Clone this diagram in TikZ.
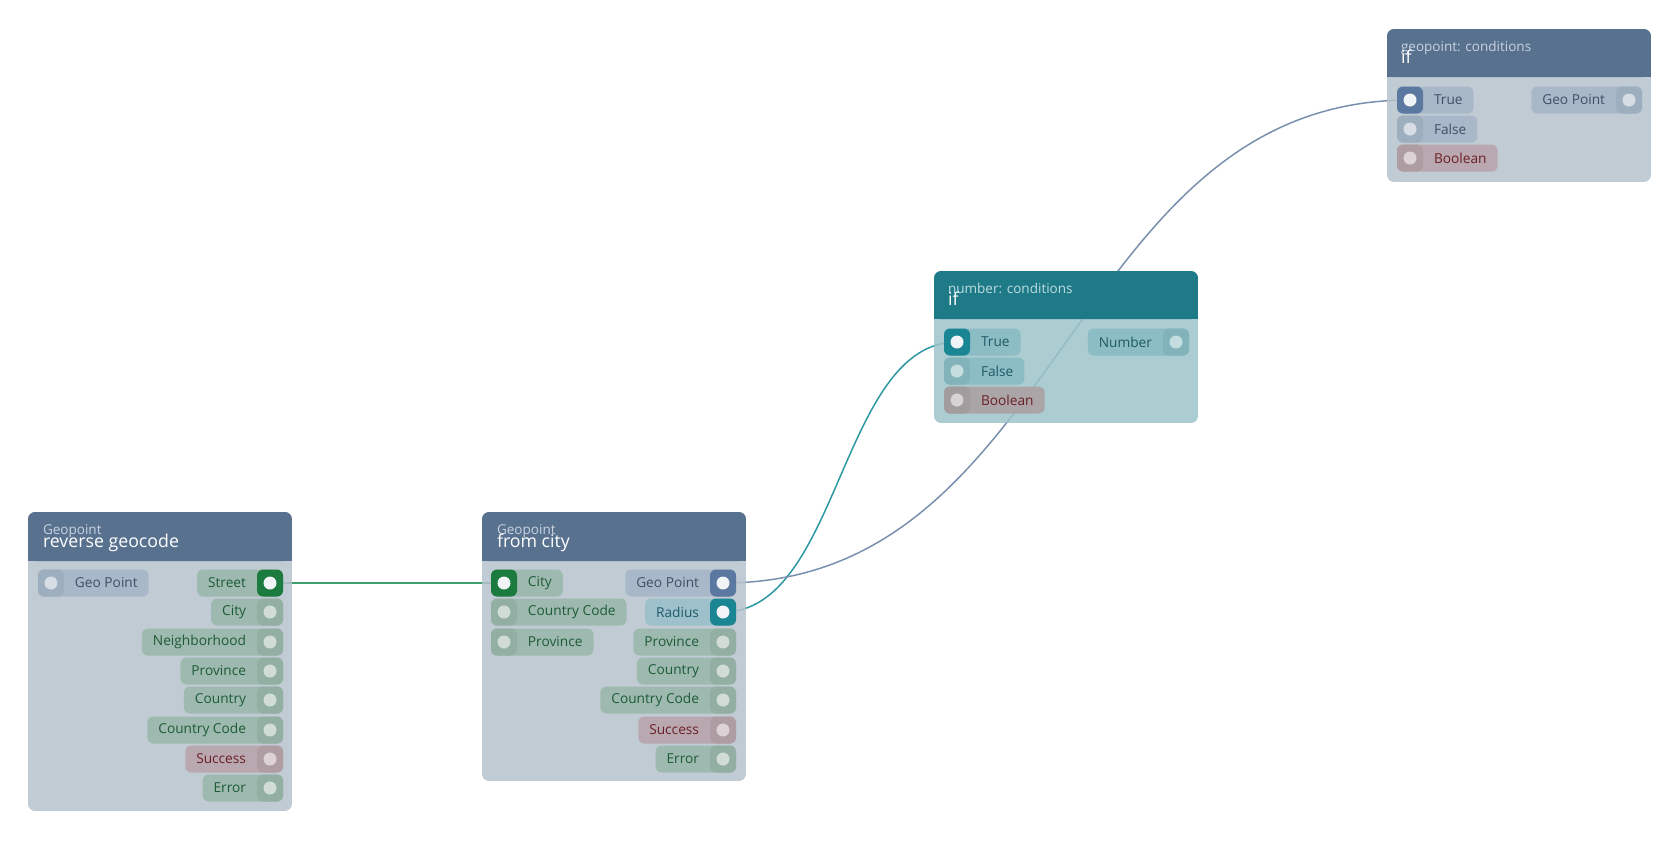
\documentclass[tikz,border=0pt]{standalone}
\usepackage{fontspec}
\setmainfont{Open Sans}
\usepackage{xcolor}
\usepackage{tikz}
\usetikzlibrary{backgrounds}
\definecolor{hdrslate}{HTML}{58718F}
\definecolor{hdrteal}{HTML}{1E7A87}
\definecolor{bodygray}{HTML}{B6C2CC}
\definecolor{bodyteal}{HTML}{9CC3C9}
\definecolor{subslate}{HTML}{C9D3DF}
\definecolor{subteal}{HTML}{BFDCE0}
\definecolor{pillgrn}{HTML}{9EBAB0}
\definecolor{txtgrn}{HTML}{1E5B36}
\definecolor{portgrn}{HTML}{93AFA4}
\definecolor{dotgrn}{HTML}{D2DCD7}
\definecolor{pillslate}{HTML}{A9B8C8}
\definecolor{txtslate}{HTML}{3F5068}
\definecolor{portslate}{HTML}{9DAEBF}
\definecolor{dotslate}{HTML}{D6DDE4}
\definecolor{pillred}{HTML}{B9A8AF}
\definecolor{txtred}{HTML}{6C1F28}
\definecolor{portred}{HTML}{AF9DA4}
\definecolor{dotred}{HTML}{DDD3D7}
\definecolor{pillrad}{HTML}{9EC0CB}
\definecolor{txtrad}{HTML}{1F5C6C}
\definecolor{pillteal}{HTML}{8DBDC4}
\definecolor{txtteal}{HTML}{1E5A63}
\definecolor{portteal}{HTML}{83B3BA}
\definecolor{dotteal}{HTML}{C6DDE0}
\definecolor{pillbool}{HTML}{ABA5A8}
\definecolor{portbool}{HTML}{A29C9F}
\definecolor{dotbool}{HTML}{D6D3D5}
\definecolor{actgrn}{HTML}{1B7A3E}
\definecolor{actslate}{HTML}{5A78A0}
\definecolor{actteal}{HTML}{1A8593}
\definecolor{actdot}{HTML}{F0F4F6}
\definecolor{wiregrn}{HTML}{3F9E6E}
\definecolor{wireteal}{HTML}{2C98A2}
\definecolor{wireslate}{HTML}{7890AD}
\newcommand{\lblfont}{\fontsize{7.8}{9}\selectfont}
\newcommand{\ttlfont}{\fontsize{10.1}{12}\selectfont}
\newcommand{\subfont}{\fontsize{7.7}{9}\selectfont}

\begin{document}
\begin{tikzpicture}[x=0.02cm,y=-0.02cm,
  every node/.style={inner sep=0,outer sep=0},
  body/.style={fill=#1,fill opacity=0.85,rounded corners=0.14cm,minimum width=5.28cm,anchor=north west},
  subttl/.style={anchor=base west,text=#1,font=\subfont},
  ttl/.style={anchor=base west,text=white,font=\ttlfont},
  ipill/.style 2 args={fill=#1,text=#2,font=\lblfont,rounded corners=0.12cm,minimum height=0.54cm,inner xsep=0.22cm,anchor=west,execute at begin node={\hspace*{0.52cm}}},
  opill/.style 2 args={fill=#1,text=#2,font=\lblfont,rounded corners=0.12cm,minimum height=0.54cm,inner xsep=0.22cm,anchor=east,execute at end node={\hspace*{0.52cm}}},
  port/.style 2 args={fill=#1,rounded corners=0.12cm,minimum width=0.52cm,minimum height=0.54cm,path picture={\fill[#2] (path picture bounding box.center) circle (0.13cm);}},
  wire/.style={draw=#1,line width=0.85pt}]

\useasboundingbox (0,0) rectangle (1680,840);

% reverse geocode
\draw node[body=bodygray,minimum height=5.98cm] at (28,512) (rg) {};
\fill[hdrslate,rounded corners=0.14cm] (rg.north west) rectangle ([yshift=-0.98cm]rg.north east);
\fill[hdrslate] ([yshift=-0.5cm]rg.north west) rectangle ([yshift=-0.98cm]rg.north east);
\draw node[subttl=subslate] at (43,534) (rg-sub) {Geopoint};
\draw node[ttl] at (43,547) (rg-ttl) {reverse geocode};

\draw node[ipill={pillslate}{txtslate}] at (38,583) (rg-geo) {Geo Point};
\draw node[port={portslate}{dotslate},anchor=west] at (rg-geo.west) (rg-geo-p) {};
\draw node[opill={pillgrn}{txtgrn}] at (283,583) (rg-street) {Street};
\draw node[port={actgrn}{actdot},anchor=east] at (rg-street.east) (rg-street-p) {};
\draw node[opill={pillgrn}{txtgrn}] at (283,612) (rg-city) {City};
\draw node[port={portgrn}{dotgrn},anchor=east] at (rg-city.east) (rg-city-p) {};
\draw node[opill={pillgrn}{txtgrn}] at (283,642) (rg-hood) {Neighborhood};
\draw node[port={portgrn}{dotgrn},anchor=east] at (rg-hood.east) (rg-hood-p) {};
\draw node[opill={pillgrn}{txtgrn}] at (283,671) (rg-prov) {Province};
\draw node[port={portgrn}{dotgrn},anchor=east] at (rg-prov.east) (rg-prov-p) {};
\draw node[opill={pillgrn}{txtgrn}] at (283,700) (rg-country) {Country};
\draw node[port={portgrn}{dotgrn},anchor=east] at (rg-country.east) (rg-country-p) {};
\draw node[opill={pillgrn}{txtgrn}] at (283,730) (rg-code) {Country Code};
\draw node[port={portgrn}{dotgrn},anchor=east] at (rg-code.east) (rg-code-p) {};
\draw node[opill={pillred}{txtred}] at (283,759) (rg-ok) {Success};
\draw node[port={portred}{dotred},anchor=east] at (rg-ok.east) (rg-ok-p) {};
\draw node[opill={pillgrn}{txtgrn}] at (283,788) (rg-err) {Error};
\draw node[port={portgrn}{dotgrn},anchor=east] at (rg-err.east) (rg-err-p) {};

% from city
\draw node[body=bodygray,minimum height=5.38cm] at (482,512) (fc) {};
\fill[hdrslate,rounded corners=0.14cm] (fc.north west) rectangle ([yshift=-0.98cm]fc.north east);
\fill[hdrslate] ([yshift=-0.5cm]fc.north west) rectangle ([yshift=-0.98cm]fc.north east);
\draw node[subttl=subslate] at (497,534) (fc-sub) {Geopoint};
\draw node[ttl] at (497,547) (fc-ttl) {from city};

\draw node[ipill={pillgrn}{txtgrn}] at (491,583) (fc-city) {City};
\draw node[port={actgrn}{actdot},anchor=west] at (fc-city.west) (fc-city-p) {};
\draw node[ipill={pillgrn}{txtgrn}] at (491,612) (fc-icode) {Country Code};
\draw node[port={portgrn}{dotgrn},anchor=west] at (fc-icode.west) (fc-icode-p) {};
\draw node[ipill={pillgrn}{txtgrn}] at (491,642) (fc-iprov) {Province};
\draw node[port={portgrn}{dotgrn},anchor=west] at (fc-iprov.west) (fc-iprov-p) {};

\draw node[opill={pillslate}{txtslate}] at (736,583) (fc-geo) {Geo Point};
\draw node[port={actslate}{actdot},anchor=east] at (fc-geo.east) (fc-geo-p) {};
\draw node[opill={pillrad}{txtrad}] at (736,612) (fc-radius) {Radius};
\draw node[port={actteal}{actdot},anchor=east] at (fc-radius.east) (fc-radius-p) {};
\draw node[opill={pillgrn}{txtgrn}] at (736,642) (fc-prov) {Province};
\draw node[port={portgrn}{dotgrn},anchor=east] at (fc-prov.east) (fc-prov-p) {};
\draw node[opill={pillgrn}{txtgrn}] at (736,671) (fc-country) {Country};
\draw node[port={portgrn}{dotgrn},anchor=east] at (fc-country.east) (fc-country-p) {};
\draw node[opill={pillgrn}{txtgrn}] at (736,700) (fc-code) {Country Code};
\draw node[port={portgrn}{dotgrn},anchor=east] at (fc-code.east) (fc-code-p) {};
\draw node[opill={pillred}{txtred}] at (736,730) (fc-ok) {Success};
\draw node[port={portred}{dotred},anchor=east] at (fc-ok.east) (fc-ok-p) {};
\draw node[opill={pillgrn}{txtgrn}] at (736,759) (fc-err) {Error};
\draw node[port={portgrn}{dotgrn},anchor=east] at (fc-err.east) (fc-err-p) {};

% if (number)
\draw node[body=bodyteal,minimum height=3.04cm] at (934,271) (ifn) {};
\fill[hdrteal,rounded corners=0.14cm] (ifn.north west) rectangle ([yshift=-0.96cm]ifn.north east);
\fill[hdrteal] ([yshift=-0.5cm]ifn.north west) rectangle ([yshift=-0.96cm]ifn.north east);
\draw node[subttl=subteal] at (948,293) (ifn-sub) {number: conditions};
\draw node[ttl] at (948,305) (ifn-ttl) {if};

\draw node[ipill={pillteal}{txtteal}] at (944,342) (ifn-true) {True};
\draw node[port={actteal}{actdot},anchor=west] at (ifn-true.west) (ifn-true-p) {};
\draw node[ipill={pillteal}{txtteal}] at (944,371) (ifn-false) {False};
\draw node[port={portteal}{dotteal},anchor=west] at (ifn-false.west) (ifn-false-p) {};
\draw node[ipill={pillbool}{txtred}] at (944,400) (ifn-bool) {Boolean};
\draw node[port={portbool}{dotbool},anchor=west] at (ifn-bool.west) (ifn-bool-p) {};
\draw node[opill={pillteal}{txtteal}] at (1189,342) (ifn-num) {Number};
\draw node[port={portteal}{dotteal},anchor=east] at (ifn-num.east) (ifn-num-p) {};

% if (geopoint)
\draw node[body=bodygray,minimum height=3.06cm] at (1387,29) (ifg) {};
\fill[hdrslate,rounded corners=0.14cm] (ifg.north west) rectangle ([yshift=-0.96cm]ifg.north east);
\fill[hdrslate] ([yshift=-0.5cm]ifg.north west) rectangle ([yshift=-0.96cm]ifg.north east);
\draw node[subttl=subslate] at (1401,51) (ifg-sub) {geopoint: conditions};
\draw node[ttl] at (1401,63) (ifg-ttl) {if};

\draw node[ipill={pillslate}{txtslate}] at (1397,100) (ifg-true) {True};
\draw node[port={actslate}{actdot},anchor=west] at (ifg-true.west) (ifg-true-p) {};
\draw node[ipill={pillslate}{txtslate}] at (1397,129) (ifg-false) {False};
\draw node[port={portslate}{dotslate},anchor=west] at (ifg-false.west) (ifg-false-p) {};
\draw node[ipill={pillred}{txtred}] at (1397,158) (ifg-bool) {Boolean};
\draw node[port={portred}{dotred},anchor=west] at (ifg-bool.west) (ifg-bool-p) {};
\draw node[opill={pillslate}{txtslate}] at (1642,100) (ifg-geo) {Geo Point};
\draw node[port={portslate}{dotslate},anchor=east] at (ifg-geo.east) (ifg-geo-p) {};

% wires
\begin{scope}[on background layer]
\draw[wire=wiregrn] (rg-street-p.center) -- (fc-city-p.center);
\draw[wire=wireteal] (fc-radius-p.center) .. controls +(117,0) and +(-117,0) .. (ifn-true-p.center);
\draw[wire=wireslate] (fc-geo-p.center) .. controls +(343,0) and +(-343,0) .. (ifg-true-p.center);
\end{scope}

\end{tikzpicture}
\end{document}
